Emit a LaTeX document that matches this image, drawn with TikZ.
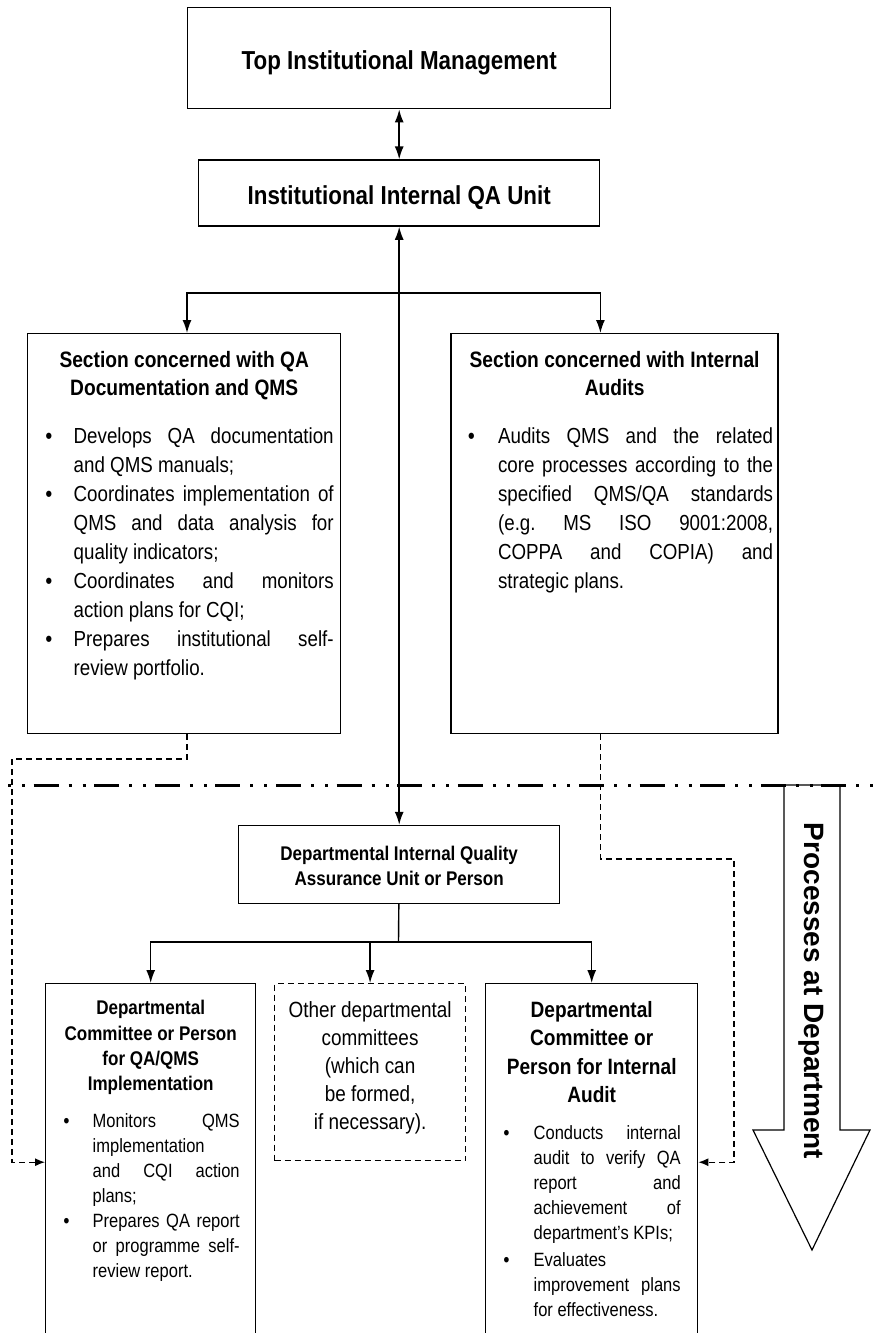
\documentclass[tikz,border=0pt]{standalone}
\usepackage{fontspec}
\setmainfont{Liberation Sans}[FakeStretch=0.86]
\newfontfamily\wideface{Liberation Sans}
\usetikzlibrary{arrows.meta,positioning}

\newcommand{\qatitle}{\fontsize{26}{30}\selectfont\bfseries}
\newcommand{\qahead}{\fontsize{22.3}{28}\selectfont\bfseries}
\newcommand{\qaauditHead}{\fontsize{22.2}{28.2}\selectfont\bfseries}
\newcommand{\qasmallhead}{\fontsize{19.8}{25.3}\selectfont\bfseries}
\newcommand{\qabody}{\fontsize{21.8}{29}\selectfont}
\newcommand{\qanote}{\fontsize{19.2}{25}\selectfont}
\newcommand{\qaother}{\fontsize{22}{28}\selectfont}
% top-aligned contents of a box: width, height, text
\newcommand{\panel}[3]{\parbox[t][#2][t]{#1}{\setlength{\parindent}{0pt}\frenchspacing\tolerance=10000 \hyphenpenalty=10000 \exhyphenpenalty=10000 #3}}
% bullet item: hang indent, bullet offset, text
\newcommand{\qaitem}[3]{\par\hangindent=#1\hangafter=0\noindent\llap{\makebox[#1][l]{\hspace{#2}{\bfseries\textbullet}}}#3\par}

\begin{document}
\begin{tikzpicture}[x=1pt, y=-1pt,
    unit/.style={draw, rectangle, line width=1.4pt, inner sep=0pt},
    optional/.style={draw, rectangle, line width=1.2pt, dash pattern=on 6pt off 4pt, inner sep=0pt},
    link/.style={line width=1.4pt},
    arrow/.style={-{Latex[length=13pt,width=9pt]}, line width=1.4pt},
    twoway/.style={{Latex[length=13pt,width=9pt]}-{Latex[length=13pt,width=9pt]}, line width=1.5pt},
    feedback/.style={-{Latex[length=10pt,width=8pt]}, line width=1.2pt, dash pattern=on 6pt off 4pt},
    divider/.style={line width=3pt, dash pattern=on 3pt off 11pt on 3pt off 8.6pt on 25pt off 10pt},
    bigarrow/.style={draw, line width=1.2pt, fill=white},
    node distance=50pt
]
\useasboundingbox (0,0) rectangle (879,1333);
\clip (0,0) rectangle (879,1333);

% institution level
\node[unit, anchor=north west] (top) at (187,7)
    {\panel{423pt}{101pt}{\centering\qatitle\rule{0pt}{62pt}Top Institutional Management}};
\node[unit, below=50pt of top] (qaunit)
    {\panel{401pt}{66pt}{\centering\qatitle\rule{0pt}{44pt}Institutional Internal QA Unit}};

\node[unit, inner xsep=7pt, anchor=north west] (secqa) at (27,333) {\panel{299pt}{400pt}{%
    {\centering\qahead\rule{0pt}{34pt}Section concerned with QA\\ Documentation and QMS\par}
    \vspace{19pt}\qabody
    \qaitem{39pt}{11pt}{Develops QA documentation\linebreak and QMS manuals;}
    \qaitem{39pt}{11pt}{Coordinates implementation of\linebreak QMS and data analysis for\linebreak quality indicators;}
    \qaitem{39pt}{11pt}{Coordinates and monitors\linebreak action plans for CQI;}
    \qaitem{39pt}{11pt}{Prepares institutional self-\linebreak review portfolio.}}};
\node[unit, inner xsep=5pt, right=109pt of secqa] (secaudit) {\panel{317pt}{400pt}{%
    {\centering\qahead\rule{0pt}{34pt}Section concerned with Internal\\ Audits\par}
    \vspace{19pt}\qabody
    \qaitem{42pt}{12pt}{Audits QMS and the related\linebreak core processes according to the\linebreak specified QMS/QA standards\linebreak (e.g. MS ISO 9001:2008,\linebreak COPPA and COPIA) and\linebreak strategic plans.}}};

% department level
\node[unit, below=598pt of qaunit] (dept)
    {\panel{321pt}{78pt}{\centering\qasmallhead\rule{0pt}{35pt}Departmental Internal Quality\\ Assurance Unit or Person}};

\node[unit, inner xsep=16pt, anchor=north west] (deptqms) at (45,983) {\panel{178pt}{357pt}{%
    {\centering\qasmallhead\rule{0pt}{31pt}Departmental\\ Committee or Person\\ for QA/QMS\\ Implementation\par}
    \vspace{12pt}\qanote
    \qaitem{31pt}{2pt}{Monitors QMS\linebreak implementation\linebreak and CQI action\linebreak plans;}
    \qaitem{31pt}{2pt}{Prepares QA report\linebreak or programme self-\linebreak review report.}}};
\node[optional, anchor=north west] (other) at (274,983)
    {\panel{191pt}{177pt}{\centering\qaother\rule{0pt}{34pt}Other departmental\\ committees\\ (which can\\ be formed,\\ if necessary).}};
\node[unit, inner xsep=17pt, anchor=north west] (deptaudit) at (485,983) {\panel{178pt}{357pt}{%
    {\centering\qaauditHead\rule{0pt}{34pt}Departmental\\ Committee or\\ Person for Internal\\ Audit\par}
    \vspace{12pt}\qanote
    \qaitem{31pt}{1pt}{Conducts internal\linebreak audit to verify QA\linebreak report and\linebreak achievement of\linebreak department's KPIs;}
    \vspace{2pt}
    \qaitem{31pt}{1pt}{Evaluates\linebreak improvement plans\linebreak for effectiveness.}}};

% big arrow and divider
\draw[bigarrow] (784,785) -- (784,1130) -- (753,1130) -- (812,1250) -- (870,1130) -- (840,1130) -- (840,785) -- cycle;
\node[rotate=-90, font=\wideface\bfseries\fontsize{28}{30}\selectfont] (procs) at (811,991) {Processes at Department};
\coordinate (divl) at (8,785);
\coordinate (divr) at (879,785);
\draw[divider] (divl) -- (divr);

% connectors
\coordinate (fork) at (398.5,293);
\coordinate (fork2) at (398.5,942);
\coordinate (lbend) at (12,759);
\coordinate (rbend) at (734,859);

\draw[twoway] (top) -- (qaunit);
\draw[twoway] (qaunit.south) -- (qaunit.south |- dept.north);
\draw[arrow] (fork) -| (secqa.north -| top.west);
\draw[arrow] (fork) -| (secaudit.north -| qaunit.east);

\draw[link] (dept) -- (fork2);
\draw[arrow] (fork2) -| (deptqms.north);
\draw[arrow] (fork2) -| (other.north);
\draw[arrow] (fork2) -| (deptaudit.north);

\draw[feedback] (secqa.south -| top.west) |- (lbend) |- (deptqms.west);
\draw[feedback] (secaudit.south -| qaunit.east) |- (rbend) |- (deptaudit.east);

\end{tikzpicture}
\end{document}
